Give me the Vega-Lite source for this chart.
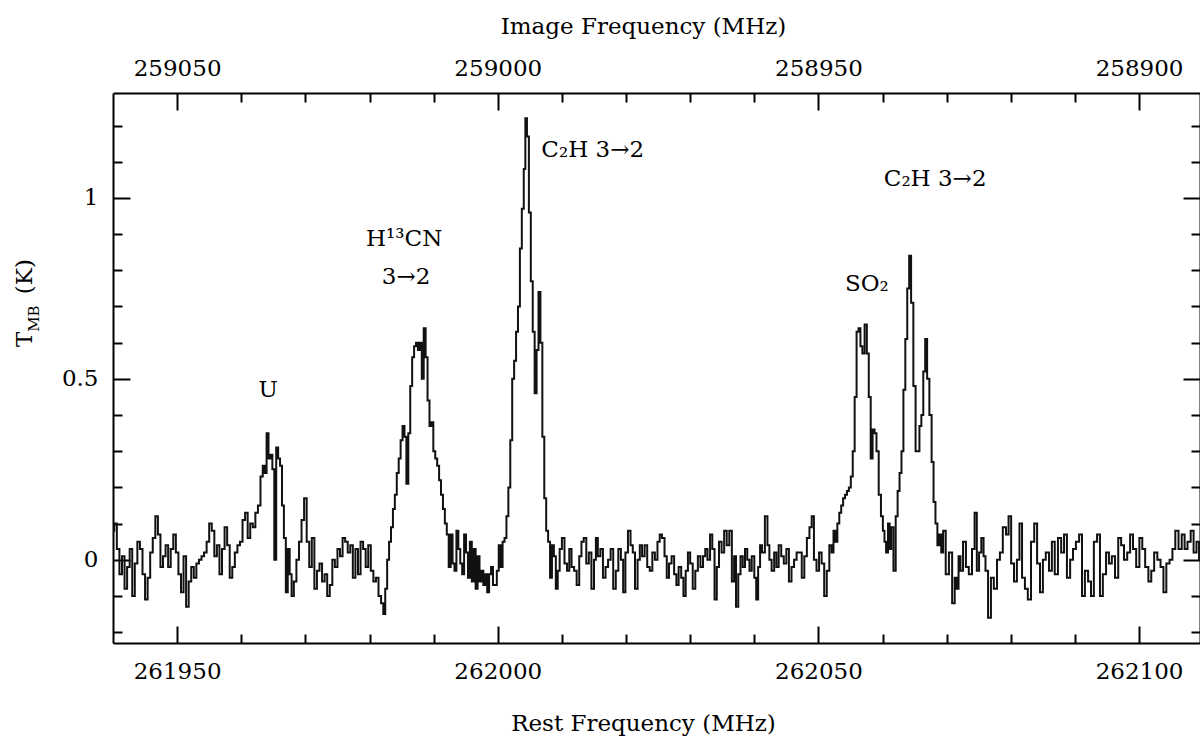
{
"$schema":"https://vega.github.io/schema/vega-lite/v6.json",
"autosize":{"type":"none"},
"padding":{"left":113,"top":93,"right":0,"bottom":96},
"width":1087,"height":550,
"background":"white",
"config":{"font":"DejaVu Serif","view":{"stroke":null},"axis":{"grid":false,"labelFont":"DejaVu Serif","labelFontSize":23,"labelColor":"black","titleFont":"DejaVu Serif","titleFontSize":23,"titleFontWeight":"normal","titleColor":"black","tickColor":"black","tickWidth":2,"domainColor":"black","domainWidth":2,"labelFlush":false,"labelOverlap":false}},
"datasets":{
"spec":[
{"f":261940.0,"t":0.08},{"f":261940.4,"t":0.10},{"f":261940.8,"t":0.03},{"f":261941.2,"t":-0.04},{"f":261941.6,"t":0.01},{"f":261942.0,"t":-0.08},{"f":261942.4,"t":-0.02},{"f":261942.8,"t":0.03},{"f":261943.2,"t":-0.10},{"f":261943.6,"t":-0.01},{"f":261944.0,"t":0.05},{"f":261944.4,"t":0.03},{"f":261944.8,"t":-0.04},{"f":261945.2,"t":-0.11},{"f":261945.6,"t":-0.05},{"f":261946.0,"t":0.02},{"f":261946.4,"t":0.06},{"f":261946.8,"t":0.12},{"f":261947.2,"t":0.07},{"f":261947.6,"t":-0.02},{"f":261948.0,"t":0.01},{"f":261948.4,"t":0.04},{"f":261948.8,"t":-0.02},{"f":261949.2,"t":0.03},{"f":261949.6,"t":0.07},{"f":261950.0,"t":0.02},{"f":261950.4,"t":-0.04},{"f":261950.8,"t":-0.09},{"f":261951.2,"t":0.01},{"f":261951.6,"t":-0.13},{"f":261952.0,"t":-0.06},{"f":261952.4,"t":-0.02},{"f":261952.8,"t":-0.05},{"f":261953.2,"t":-0.01},{"f":261953.6,"t":0.00},{"f":261954.0,"t":0.01},{"f":261954.4,"t":0.02},{"f":261954.8,"t":0.05},{"f":261955.2,"t":0.10},{"f":261955.6,"t":0.08},{"f":261956.0,"t":0.01},{"f":261956.4,"t":0.04},{"f":261956.8,"t":-0.04},{"f":261957.2,"t":0.03},{"f":261957.6,"t":0.09},{"f":261958.0,"t":0.04},{"f":261958.4,"t":-0.05},{"f":261958.8,"t":-0.02},{"f":261959.2,"t":0.02},{"f":261959.6,"t":0.04},{"f":261960.0,"t":0.05},{"f":261960.4,"t":0.11},{"f":261960.8,"t":0.13},{"f":261961.2,"t":0.06},{"f":261961.6,"t":0.10},{"f":261962.0,"t":0.09},{"f":261962.4,"t":0.13},{"f":261962.8,"t":0.15},{"f":261963.2,"t":0.23},{"f":261963.5,"t":0.26},{"f":261963.8,"t":0.24},{"f":261964.1,"t":0.35},{"f":261964.4,"t":0.28},{"f":261964.7,"t":0.29},{"f":261965.0,"t":0.25},{"f":261965.3,"t":0.00},{"f":261965.6,"t":0.31},{"f":261965.9,"t":0.28},{"f":261966.2,"t":0.26},{"f":261966.5,"t":0.15},{"f":261966.8,"t":0.06},{"f":261967.1,"t":-0.09},{"f":261967.4,"t":0.03},{"f":261967.7,"t":-0.04},{"f":261968.0,"t":-0.10},{"f":261968.4,"t":-0.06},{"f":261968.8,"t":0.00},{"f":261969.2,"t":0.05},{"f":261969.6,"t":0.11},{"f":261970.0,"t":0.17},{"f":261970.4,"t":0.05},{"f":261970.8,"t":-0.02},{"f":261971.2,"t":0.06},{"f":261971.6,"t":-0.08},{"f":261972.0,"t":-0.03},{"f":261972.4,"t":-0.01},{"f":261972.8,"t":-0.06},{"f":261973.2,"t":-0.04},{"f":261973.6,"t":-0.10},{"f":261974.0,"t":-0.07},{"f":261974.4,"t":0.00},{"f":261974.8,"t":-0.02},{"f":261975.2,"t":0.03},{"f":261975.6,"t":0.01},{"f":261976.0,"t":0.06},{"f":261976.4,"t":0.05},{"f":261976.8,"t":0.02},{"f":261977.2,"t":0.04},{"f":261977.6,"t":-0.05},{"f":261978.0,"t":0.03},{"f":261978.4,"t":-0.04},{"f":261978.8,"t":0.05},{"f":261979.2,"t":0.03},{"f":261979.6,"t":-0.02},{"f":261980.0,"t":0.04},{"f":261980.4,"t":-0.03},{"f":261980.8,"t":-0.06},{"f":261981.2,"t":-0.05},{"f":261981.6,"t":-0.10},{"f":261982.0,"t":-0.12},{"f":261982.3,"t":-0.15},{"f":261982.6,"t":-0.08},{"f":261982.9,"t":0.00},{"f":261983.2,"t":0.05},{"f":261983.5,"t":0.09},{"f":261983.8,"t":0.14},{"f":261984.1,"t":0.18},{"f":261984.4,"t":0.24},{"f":261984.7,"t":0.28},{"f":261985.0,"t":0.33},{"f":261985.3,"t":0.37},{"f":261985.6,"t":0.34},{"f":261985.9,"t":0.21},{"f":261986.2,"t":0.35},{"f":261986.5,"t":0.48},{"f":261986.8,"t":0.56},{"f":261987.1,"t":0.59},{"f":261987.4,"t":0.60},{"f":261987.7,"t":0.58},{"f":261988.0,"t":0.60},{"f":261988.3,"t":0.50},{"f":261988.6,"t":0.64},{"f":261988.9,"t":0.56},{"f":261989.2,"t":0.44},{"f":261989.5,"t":0.37},{"f":261989.8,"t":0.38},{"f":261990.1,"t":0.30},{"f":261990.4,"t":0.28},{"f":261990.7,"t":0.26},{"f":261991.0,"t":0.22},{"f":261991.3,"t":0.18},{"f":261991.6,"t":0.14},{"f":261991.9,"t":0.10},{"f":261992.2,"t":0.07},{"f":261992.5,"t":-0.02},{"f":261992.8,"t":0.07},{"f":261993.1,"t":-0.01},{"f":261993.4,"t":-0.03},{"f":261993.7,"t":0.08},{"f":261994.0,"t":0.03},{"f":261994.3,"t":-0.01},{"f":261994.6,"t":-0.04},{"f":261994.9,"t":0.07},{"f":261995.2,"t":0.02},{"f":261995.5,"t":-0.05},{"f":261995.8,"t":0.05},{"f":261996.1,"t":-0.06},{"f":261996.4,"t":0.03},{"f":261996.7,"t":-0.08},{"f":261997.0,"t":0.01},{"f":261997.3,"t":-0.06},{"f":261997.6,"t":-0.03},{"f":261997.9,"t":-0.07},{"f":261998.2,"t":-0.04},{"f":261998.5,"t":-0.09},{"f":261998.8,"t":-0.04},{"f":261999.1,"t":-0.02},{"f":261999.4,"t":-0.07},{"f":261999.7,"t":-0.07},{"f":262000.0,"t":-0.03},{"f":262000.3,"t":0.04},{"f":262000.6,"t":-0.02},{"f":262000.9,"t":0.05},{"f":262001.2,"t":0.06},{"f":262001.5,"t":0.12},{"f":262001.8,"t":0.20},{"f":262002.1,"t":0.33},{"f":262002.4,"t":0.50},{"f":262002.7,"t":0.55},{"f":262003.0,"t":0.63},{"f":262003.3,"t":0.70},{"f":262003.6,"t":0.86},{"f":262003.9,"t":0.97},{"f":262004.2,"t":1.08},{"f":262004.4,"t":1.22},{"f":262004.7,"t":1.17},{"f":262005.0,"t":0.96},{"f":262005.3,"t":0.77},{"f":262005.6,"t":0.63},{"f":262005.9,"t":0.46},{"f":262006.2,"t":0.58},{"f":262006.5,"t":0.74},{"f":262006.8,"t":0.60},{"f":262007.1,"t":0.34},{"f":262007.4,"t":0.17},{"f":262007.7,"t":0.08},{"f":262008.0,"t":0.05},{"f":262008.3,"t":-0.05},{"f":262008.6,"t":0.04},{"f":262008.9,"t":0.01},{"f":262009.2,"t":-0.08},{"f":262009.5,"t":-0.03},{"f":262009.8,"t":0.03},{"f":262010.2,"t":0.06},{"f":262010.6,"t":-0.01},{"f":262011.0,"t":-0.03},{"f":262011.3,"t":0.03},{"f":262011.7,"t":-0.02},{"f":262012.1,"t":-0.03},{"f":262012.5,"t":-0.07},{"f":262012.9,"t":0.01},{"f":262013.2,"t":0.05},{"f":262013.6,"t":0.06},{"f":262014.0,"t":-0.01},{"f":262014.4,"t":0.02},{"f":262014.8,"t":-0.08},{"f":262015.2,"t":0.00},{"f":262015.4,"t":0.06},{"f":262015.8,"t":0.01},{"f":262016.2,"t":0.03},{"f":262016.6,"t":-0.05},{"f":262017.0,"t":-0.02},{"f":262017.4,"t":0.00},{"f":262017.8,"t":0.03},{"f":262018.2,"t":-0.08},{"f":262018.6,"t":-0.03},{"f":262019.0,"t":0.03},{"f":262019.4,"t":0.00},{"f":262019.7,"t":-0.09},{"f":262020.1,"t":0.02},{"f":262020.5,"t":0.08},{"f":262020.9,"t":0.04},{"f":262021.2,"t":0.02},{"f":262021.6,"t":-0.08},{"f":262022.0,"t":0.00},{"f":262022.3,"t":0.04},{"f":262022.7,"t":0.01},{"f":262023.1,"t":0.04},{"f":262023.5,"t":-0.02},{"f":262023.9,"t":-0.03},{"f":262024.3,"t":0.02},{"f":262024.7,"t":0.00},{"f":262025.1,"t":0.05},{"f":262025.4,"t":0.07},{"f":262025.8,"t":0.06},{"f":262026.2,"t":0.01},{"f":262026.5,"t":-0.05},{"f":262026.9,"t":-0.01},{"f":262027.3,"t":0.01},{"f":262027.7,"t":-0.04},{"f":262028.0,"t":-0.07},{"f":262028.4,"t":-0.02},{"f":262028.8,"t":-0.05},{"f":262029.1,"t":-0.10},{"f":262029.5,"t":-0.03},{"f":262029.8,"t":0.02},{"f":262030.2,"t":-0.01},{"f":262030.6,"t":-0.08},{"f":262031.0,"t":-0.03},{"f":262031.4,"t":0.01},{"f":262031.8,"t":-0.02},{"f":262032.2,"t":0.01},{"f":262032.5,"t":0.03},{"f":262032.9,"t":0.00},{"f":262033.3,"t":0.07},{"f":262033.6,"t":0.03},{"f":262034.0,"t":-0.11},{"f":262034.3,"t":-0.02},{"f":262034.7,"t":0.05},{"f":262035.1,"t":0.02},{"f":262035.5,"t":0.08},{"f":262035.9,"t":0.04},{"f":262036.3,"t":0.08},{"f":262036.7,"t":-0.06},{"f":262037.0,"t":0.01},{"f":262037.3,"t":-0.13},{"f":262037.7,"t":-0.04},{"f":262038.0,"t":0.01},{"f":262038.4,"t":-0.02},{"f":262038.7,"t":0.03},{"f":262039.1,"t":0.00},{"f":262039.4,"t":-0.03},{"f":262039.8,"t":0.01},{"f":262040.2,"t":-0.05},{"f":262040.4,"t":-0.11},{"f":262040.8,"t":-0.02},{"f":262041.0,"t":0.04},{"f":262041.4,"t":0.02},{"f":262041.9,"t":0.12},{"f":262042.2,"t":0.04},{"f":262042.5,"t":0.00},{"f":262042.9,"t":-0.03},{"f":262043.3,"t":0.02},{"f":262043.6,"t":-0.02},{"f":262044.0,"t":0.04},{"f":262044.4,"t":0.01},{"f":262044.8,"t":-0.01},{"f":262045.2,"t":0.03},{"f":262045.6,"t":-0.06},{"f":262046.0,"t":-0.02},{"f":262046.4,"t":0.00},{"f":262046.8,"t":0.02},{"f":262047.2,"t":0.02},{"f":262047.6,"t":-0.05},{"f":262048.0,"t":0.01},{"f":262048.4,"t":0.06},{"f":262048.8,"t":0.09},{"f":262049.1,"t":0.12},{"f":262049.5,"t":0.00},{"f":262049.9,"t":-0.03},{"f":262050.3,"t":0.02},{"f":262050.7,"t":-0.01},{"f":262051.1,"t":-0.10},{"f":262051.5,"t":-0.03},{"f":262051.9,"t":0.04},{"f":262052.2,"t":0.02},{"f":262052.5,"t":0.08},{"f":262052.8,"t":0.05},{"f":262053.1,"t":0.10},{"f":262053.4,"t":0.13},{"f":262053.7,"t":0.15},{"f":262054.0,"t":0.17},{"f":262054.3,"t":0.18},{"f":262054.6,"t":0.19},{"f":262054.9,"t":0.20},{"f":262055.2,"t":0.23},{"f":262055.5,"t":0.30},{"f":262055.8,"t":0.45},{"f":262056.1,"t":0.63},{"f":262056.4,"t":0.64},{"f":262056.7,"t":0.59},{"f":262057.0,"t":0.57},{"f":262057.4,"t":0.65},{"f":262057.7,"t":0.57},{"f":262058.0,"t":0.45},{"f":262058.3,"t":0.28},{"f":262058.6,"t":0.36},{"f":262058.9,"t":0.35},{"f":262059.2,"t":0.30},{"f":262059.6,"t":0.18},{"f":262059.9,"t":0.12},{"f":262060.2,"t":0.08},{"f":262060.4,"t":0.05},{"f":262060.7,"t":0.02},{"f":262061.0,"t":0.10},{"f":262061.2,"t":0.03},{"f":262061.5,"t":0.09},{"f":262061.9,"t":-0.03},{"f":262062.2,"t":0.12},{"f":262062.5,"t":0.19},{"f":262062.8,"t":0.24},{"f":262063.1,"t":0.30},{"f":262063.4,"t":0.47},{"f":262063.7,"t":0.61},{"f":262064.0,"t":0.75},{"f":262064.3,"t":0.84},{"f":262064.6,"t":0.71},{"f":262065.0,"t":0.48},{"f":262065.3,"t":0.30},{"f":262065.6,"t":0.30},{"f":262065.9,"t":0.37},{"f":262066.2,"t":0.40},{"f":262066.5,"t":0.52},{"f":262066.8,"t":0.61},{"f":262067.1,"t":0.50},{"f":262067.5,"t":0.40},{"f":262067.8,"t":0.27},{"f":262068.1,"t":0.16},{"f":262068.4,"t":0.10},{"f":262068.7,"t":0.04},{"f":262069.0,"t":0.07},{"f":262069.3,"t":0.02},{"f":262069.6,"t":0.08},{"f":262070.1,"t":-0.04},{"f":262070.6,"t":0.02},{"f":262071.1,"t":-0.12},{"f":262071.4,"t":-0.05},{"f":262071.7,"t":-0.08},{"f":262072.0,"t":0.01},{"f":262072.3,"t":-0.03},{"f":262072.8,"t":0.05},{"f":262073.2,"t":-0.02},{"f":262073.7,"t":-0.04},{"f":262074.2,"t":0.03},{"f":262074.5,"t":0.13},{"f":262074.9,"t":-0.03},{"f":262075.2,"t":0.02},{"f":262075.6,"t":0.06},{"f":262075.9,"t":0.01},{"f":262076.2,"t":-0.03},{"f":262076.7,"t":-0.16},{"f":262077.1,"t":-0.05},{"f":262077.6,"t":-0.08},{"f":262078.1,"t":0.00},{"f":262078.5,"t":0.02},{"f":262079.0,"t":0.09},{"f":262079.5,"t":0.07},{"f":262079.8,"t":0.12},{"f":262080.3,"t":-0.01},{"f":262080.7,"t":-0.06},{"f":262081.2,"t":0.00},{"f":262081.5,"t":0.10},{"f":262082.0,"t":-0.05},{"f":262082.4,"t":-0.08},{"f":262082.9,"t":-0.11},{"f":262083.4,"t":0.05},{"f":262083.9,"t":0.10},{"f":262084.3,"t":-0.01},{"f":262084.8,"t":-0.09},{"f":262085.2,"t":0.00},{"f":262085.7,"t":0.02},{"f":262086.2,"t":-0.03},{"f":262086.6,"t":0.05},{"f":262087.1,"t":-0.04},{"f":262087.6,"t":0.06},{"f":262088.1,"t":0.02},{"f":262088.5,"t":0.07},{"f":262089.0,"t":-0.05},{"f":262089.5,"t":0.00},{"f":262089.9,"t":0.03},{"f":262090.4,"t":0.05},{"f":262090.9,"t":0.07},{"f":262091.3,"t":-0.10},{"f":262091.8,"t":-0.03},{"f":262092.3,"t":-0.06},{"f":262092.7,"t":-0.10},{"f":262093.2,"t":0.05},{"f":262093.7,"t":0.07},{"f":262094.1,"t":-0.10},{"f":262094.6,"t":-0.04},{"f":262095.1,"t":0.02},{"f":262095.5,"t":-0.01},{"f":262096.0,"t":0.01},{"f":262096.5,"t":-0.05},{"f":262097.0,"t":0.06},{"f":262097.4,"t":0.04},{"f":262097.9,"t":0.00},{"f":262098.4,"t":0.02},{"f":262098.8,"t":0.07},{"f":262099.3,"t":0.03},{"f":262099.8,"t":-0.02},{"f":262100.3,"t":0.06},{"f":262100.7,"t":0.03},{"f":262101.2,"t":-0.02},{"f":262101.7,"t":-0.06},{"f":262102.1,"t":-0.03},{"f":262102.6,"t":0.02},{"f":262103.1,"t":0.00},{"f":262103.6,"t":-0.02},{"f":262104.0,"t":-0.09},{"f":262104.5,"t":-0.01},{"f":262105.0,"t":0.00},{"f":262105.4,"t":0.03},{"f":262105.9,"t":0.08},{"f":262106.4,"t":0.03},{"f":262106.9,"t":0.07},{"f":262107.3,"t":0.03},{"f":262107.8,"t":0.05},{"f":262108.3,"t":0.08},{"f":262108.7,"t":0.02},{"f":262109.2,"t":0.05},{"f":262109.5,"t":0.00}
],
"labels":[
{"f":261964.2,"t":0.45,"text":"U"},
{"f":261985.4,"t":0.866,"text":"H¹³CN"},
{"f":261985.7,"t":0.762,"text":"3→2"},
{"f":262014.8,"t":1.112,"text":"C₂H 3→2"},
{"f":262068.2,"t":1.034,"text":"C₂H 3→2"},
{"f":262057.55,"t":0.742,"text":"SO₂"}
],
"ytitle":[{"f":261927.4,"t":0.588,"text":"T"},{"f":261927.4,"t":0.734,"text":"(K)"}],
"ysub":[{"f":261928.4,"t":0.63,"text":"MB"}],
"dummy":[{"f":261940,"t":0,"img":259060},{"f":262109.5,"t":1,"img":258890.5}]
},
"resolve":{"scale":{"x":"independent","y":"independent"},"axis":{"x":"independent","y":"independent"}},
"layer":[
{"data":{"name":"spec"},"mark":{"type":"line","interpolate":"step","color":"#111","strokeWidth":2,"clip":true},
 "encoding":{
  "x":{"field":"f","type":"quantitative","scale":{"domain":[261940,262109.5],"nice":false,"zero":false},
       "axis":{"orient":"bottom","values":[261950,262000,262050,262100],"format":"d","tickSize":-17,"labelBaseline":"alphabetic","labelPadding":52,"title":"Rest Frequency (MHz)","titleX":530,"titleY":87,"titleAlign":"center","titleBaseline":"alphabetic"}},
  "y":{"field":"t","type":"quantitative","scale":{"domain":[-0.23,1.29],"nice":false,"zero":false},
       "axis":{"orient":"left","values":[0,0.5,1],"format":"~g","tickSize":-17,"labelBaseline":"middle","labelPadding":32,"title":null}}
 }},
{"data":{"name":"dummy"},"mark":{"type":"point","opacity":0},
 "encoding":{
  "x":{"field":"f","type":"quantitative","scale":{"domain":[261940,262109.5],"nice":false,"zero":false},
       "axis":{"orient":"bottom","values":[261960,261970,261980,261990,262010,262020,262030,262040,262060,262070,262080,262090],"tickSize":-9,"labels":false,"domain":false,"title":null}},
  "y":{"field":"t","type":"quantitative","scale":{"domain":[-0.23,1.29],"nice":false,"zero":false},
       "axis":{"orient":"left","values":[-0.2,-0.1,0.1,0.2,0.3,0.4,0.6,0.7,0.8,0.9,1.1,1.2],"tickSize":-9,"labels":false,"domain":false,"title":null}}
 }},
{"data":{"name":"dummy"},"mark":{"type":"point","opacity":0},
 "encoding":{
  "x":{"field":"img","type":"quantitative","scale":{"domain":[259060,258890.5],"nice":false,"zero":false},
       "axis":{"orient":"top","values":[259050,259000,258950,258900],"format":"d","tickSize":-17,"labelBaseline":"alphabetic","labelPadding":35,"title":"Image Frequency (MHz)","titleX":530,"titleY":-60,"titleAlign":"center","titleBaseline":"alphabetic"}},
  "y":{"field":"t","type":"quantitative","scale":{"domain":[-0.23,1.29],"nice":false,"zero":false},
       "axis":{"orient":"right","values":[0,0.5,1],"tickSize":-17,"labels":false,"title":null}}
 }},
{"data":{"name":"dummy"},"mark":{"type":"point","opacity":0},
 "encoding":{
  "x":{"field":"img","type":"quantitative","scale":{"domain":[259060,258890.5],"nice":false,"zero":false},
       "axis":{"orient":"top","values":[259040,259030,259020,259010,258990,258980,258970,258960,258940,258930,258920,258910],"tickSize":-9,"labels":false,"domain":false,"title":null}},
  "y":{"field":"t","type":"quantitative","scale":{"domain":[-0.23,1.29],"nice":false,"zero":false},
       "axis":{"orient":"right","values":[-0.2,-0.1,0.1,0.2,0.3,0.4,0.6,0.7,0.8,0.9,1.1,1.2],"tickSize":-9,"labels":false,"domain":false,"title":null}}
 }},
{"data":{"name":"labels"},"mark":{"type":"text","font":"DejaVu Serif","fontSize":23,"color":"black","align":"center","baseline":"alphabetic"},
 "encoding":{
  "x":{"field":"f","type":"quantitative","scale":{"domain":[261940,262109.5],"nice":false,"zero":false},"axis":null},
  "y":{"field":"t","type":"quantitative","scale":{"domain":[-0.23,1.29],"nice":false,"zero":false},"axis":null},
  "text":{"field":"text"}
 }},
{"data":{"name":"ytitle"},"mark":{"type":"text","font":"DejaVu Serif","fontSize":23,"color":"black","align":"left","baseline":"alphabetic","angle":270},
 "encoding":{
  "x":{"field":"f","type":"quantitative","scale":{"domain":[261940,262109.5],"nice":false,"zero":false},"axis":null},
  "y":{"field":"t","type":"quantitative","scale":{"domain":[-0.23,1.29],"nice":false,"zero":false},"axis":null},
  "text":{"field":"text"}
 }},
{"data":{"name":"ysub"},"mark":{"type":"text","font":"DejaVu Serif","fontSize":15,"color":"black","align":"left","baseline":"alphabetic","angle":270},
 "encoding":{
  "x":{"field":"f","type":"quantitative","scale":{"domain":[261940,262109.5],"nice":false,"zero":false},"axis":null},
  "y":{"field":"t","type":"quantitative","scale":{"domain":[-0.23,1.29],"nice":false,"zero":false},"axis":null},
  "text":{"field":"text"}
 }}
]
}
